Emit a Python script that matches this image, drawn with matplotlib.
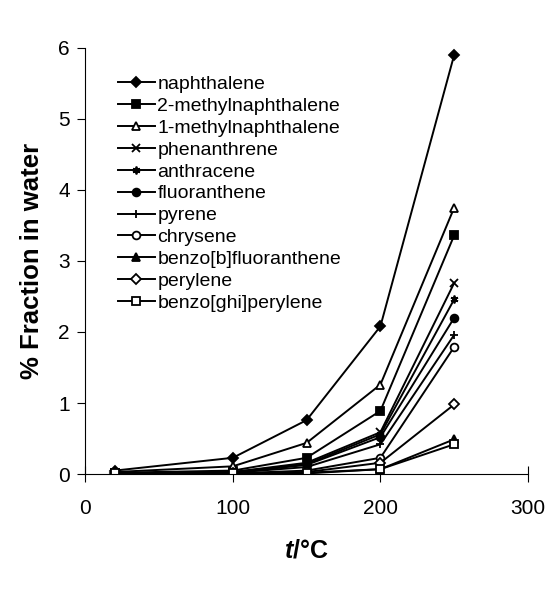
import numpy as np
import matplotlib
matplotlib.use("Agg")
import matplotlib.pyplot as plt

plt.rcParams['font.family'] = ['Liberation Sans', 'DejaVu Sans']
plt.rcParams['mathtext.fontset'] = 'custom'
plt.rcParams['mathtext.rm'] = 'Liberation Sans'
plt.rcParams['mathtext.bf'] = 'Liberation Sans:bold'
plt.rcParams['mathtext.bfit'] = 'Liberation Sans:italic:bold'

# temperatures (°C)
temps = [20, 100, 150, 200, 250]

names = ["naphthalene", "2-methylnaphthalene", "1-methylnaphthalene",
         "phenanthrene", "anthracene", "fluoranthene", "pyrene", "chrysene",
         "benzo[b]fluoranthene", "perylene", "benzo[ghi]perylene"]

# % fraction in water
naphthalene = [0.05, 0.23, 0.76, 2.08, 5.90]
methyl2 = [0.02, 0.05, 0.23, 0.89, 3.36]
methyl1 = [0.03, 0.11, 0.44, 1.26, 3.75]
phenanthrene = [0.01, 0.03, 0.16, 0.59, 2.69]
anthracene = [0.01, 0.03, 0.14, 0.56, 2.46]
fluoranthene = [0.01, 0.02, 0.13, 0.52, 2.20]
pyrene = [0.01, 0.02, 0.10, 0.42, 1.96]
chrysene = [0.01, 0.01, 0.05, 0.23, 1.79]
benzo_b = [0.01, 0.01, 0.02, 0.07, 0.49]
perylene = [0.01, 0.01, 0.03, 0.16, 0.98]
benzo_ghi = [0.01, 0.01, 0.01, 0.07, 0.42]

series = [naphthalene, methyl2, methyl1, phenanthrene, anthracene,
          fluoranthene, pyrene, chrysene, benzo_b, perylene, benzo_ghi]

# marker, filled?
styles = [("D", True), ("s", True), ("^", False), ("x", True), ((6, 2, 0), True),
          ("o", True), ("+", True), ("o", False), ("^", True), ("D", False), ("s", False)]

fig = plt.figure(figsize=(5.5, 5.89), dpi=100)
ax = fig.add_axes([0.155, 0.195, 0.805, 0.724])

for name, vals, (m, filled) in zip(names, series, styles):
    ms = 5.0 if m == "D" else 5.6
    ax.plot(temps, vals, color='black', lw=1.4, marker=m, markersize=ms,
            markerfacecolor='black' if filled else 'white',
            markeredgecolor='black', markeredgewidth=1.3, label=name)

ax.set_xlim(0, 300)
ax.set_ylim(0, 6)
ax.set_xticks([0, 100, 200, 300])
ax.set_yticks(range(0, 7))
ax.spines['top'].set_visible(False)
ax.spines['right'].set_visible(False)
ax.tick_params(axis='x', direction='inout', length=12, labelsize=15, pad=12)
ax.tick_params(axis='y', direction='out', length=6, labelsize=15, pad=5)

ax.set_xlabel(r'$\mathbfit{t}$/°C', fontsize=18, fontweight='bold', labelpad=15)
ax.set_ylabel('% Fraction in water', fontsize=18.5, fontweight='bold', labelpad=10)

ax.legend(loc='upper left', bbox_to_anchor=(0.073, 0.935), frameon=False,
          fontsize=14, handlelength=1.9, handletextpad=0.15, labelspacing=0.22,
          borderpad=0, borderaxespad=0)

fig.savefig("out.png", dpi=100)
